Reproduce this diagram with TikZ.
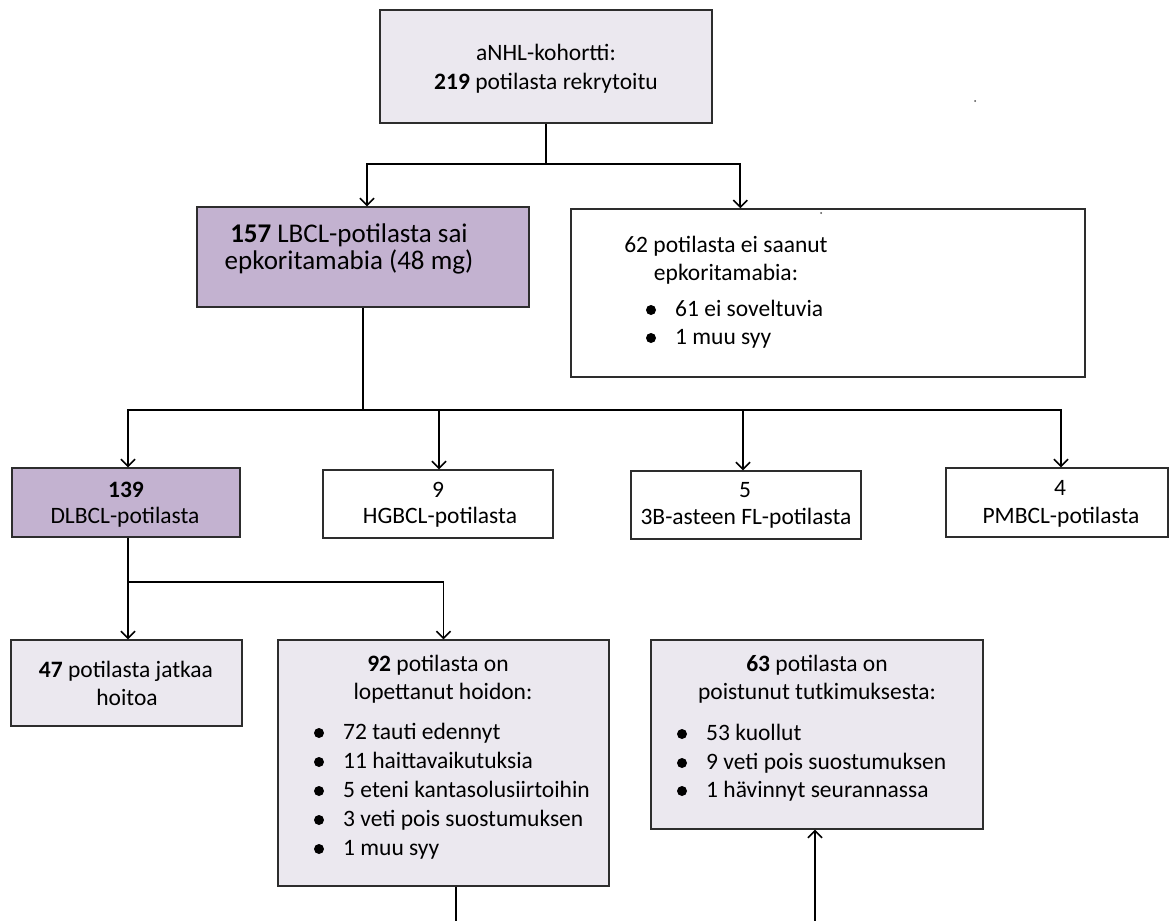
\documentclass[tikz,border=0pt]{standalone}
\usepackage{fontspec}
\setmainfont{Carlito}
\usetikzlibrary{arrows.meta,calc}
\definecolor{lightbox}{RGB}{235,232,239}
\definecolor{purplebox}{RGB}{195,178,208}
\definecolor{edgecol}{RGB}{45,45,45}
\begin{document}
\begin{tikzpicture}[x=1pt,y=-1pt,
  box/.style={draw=edgecol, line width=1.4pt, rectangle, inner sep=0pt},
  txt/.style={font=\fontsize{23.5}{28.7}\selectfont, inner sep=0pt, anchor=base},
  bigtxt/.style={font=\fontsize{27}{30}\selectfont, inner sep=0pt, anchor=base},
  item/.style={font=\fontsize{23.5}{28.7}\selectfont, inner sep=0pt, anchor=base west},
  ln/.style={line width=1.8pt, black},
  arr/.style={line width=1.8pt, black, -{Straight Barb[length=7pt,width=14pt,line width=1.6pt]}}
]
\useasboundingbox (0,0) rectangle (1171,921);
\newcommand{\itm}[4]{\fill[black] (#2,#3-6) circle[radius=5pt];
  \node[item] (#1) at (#2+24,#3) {#4};}

% boxes
\node[box, fill=lightbox, minimum width=332pt, minimum height=113pt] (top) at (546,66.5) {};
\node[box, fill=purplebox, minimum width=332pt, minimum height=100pt] (n157) at (363,257) {};
\node[box, fill=white, minimum width=514pt, minimum height=168pt] (n62) at (828,293) {};
\node[box, fill=purplebox, minimum width=228pt, minimum height=69pt] (dl) at (126,502.5) {};
\node[box, fill=white, minimum width=230pt, minimum height=68pt] (hg) at (438,504) {};
\node[box, fill=white, minimum width=230pt, minimum height=68pt] (fl) at (746,505) {};
\node[box, fill=white, minimum width=222pt, minimum height=69pt] (pm) at (1057,502.5) {};
\node[box, fill=lightbox, minimum width=231pt, minimum height=86pt] (n47) at (126.5,683) {};
\node[box, fill=lightbox, minimum width=331pt, minimum height=246pt] (n92) at (443.5,763) {};
\node[box, fill=lightbox, minimum width=332pt, minimum height=189pt] (n63) at (817,734.5) {};

% texts
\node[txt] (t1a) at (546,60) {aNHL-kohortti:};
\node[txt] (t1b) at (546,89) {\textbf{219} potilasta rekrytoitu};

\node[bigtxt] (t2a) at (349,242) {\textbf{157} LBCL-potilasta sai};
\node[bigtxt] (t2b) at (349,269) {epkoritamabia (48 mg)};

\node[txt] (t3a) at (726,252) {62 potilasta ei saanut};
\node[txt] (t3b) at (726,280) {epkoritamabia:};
\itm{t3c}{651}{316}{61 ei soveltuvia}
\itm{t3d}{651}{344}{1 muu syy}

\node[txt] (t4a) at (126,497) {\textbf{139}};
\node[txt] (t4b) at (125,523) {DLBCL-potilasta};
\node[txt] (t5a) at (438,497) {9};
\node[txt] (t5b) at (440,523) {HGBCL-potilasta};
\node[txt] (t6a) at (745,497) {5};
\node[txt] (t6b) at (746,524) {3B-asteen FL-potilasta};
\node[txt] (t7a) at (1060,495) {4};
\node[txt] (t7b) at (1061,523) {PMBCL-potilasta};

\node[txt] (t8a) at (126,677) {\textbf{47} potilasta jatkaa};
\node[txt] (t8b) at (127,705) {hoitoa};

\node[txt] (t9a) at (438,671) {\textbf{92} potilasta on};
\node[txt] (t9b) at (443,699) {lopettanut hoidon:};
\itm{t9c}{319}{739}{72 tauti edennyt}
\itm{t9d}{319}{768}{11 haittavaikutuksia}
\itm{t9e}{319}{797}{5 eteni kantasolusiirtoihin}
\itm{t9f}{319}{826}{3 veti pois suostumuksen}
\itm{t9g}{319}{855}{1 muu syy}

\node[txt] (t10a) at (817,671) {\textbf{63} potilasta on};
\node[txt] (t10b) at (817,699) {poistunut tutkimuksesta:};
\itm{t10c}{682}{740}{53 kuollut}
\itm{t10d}{682}{769}{9 veti pois suostumuksen}
\itm{t10e}{682}{797}{1 hävinnyt seurannassa}

% connectors
\coordinate (j1) at (546,164);
\draw[ln] (top.south) -- (j1);
\draw[arr] (j1) -| ($(n157.north)+(4,0)$);
\draw[arr] (j1) -| ($(n62.north west)+(170,0)$);

\coordinate (j2) at (363,410);
\draw[ln] (n157.south) -- (j2);
\draw[arr] (j2) -| ($(dl.north)+(2,0)$);
\draw[arr] (j2) -| ($(hg.north)+(1,0)$);
\draw[arr] (j2) -| ($(fl.north)+(-3,0)$);
\draw[arr, line width=1.3pt] (j2) -| ($(pm.north)+(4,0)$);

\coordinate (j3) at (128,582);
\draw[ln] ($(dl.south)+(2,0)$) -- (j3);
\draw[arr] (j3) -- (j3 |- n47.north);
\draw[arr] (j3) -| (n92.north);

\coordinate (b1) at (456,921);
\draw[ln] (b1 |- n92.south) -- (b1);
\coordinate (b2) at (815,921);
\draw[arr] (b2) -- (b2 |- n63.south);

% stray specks
\fill[black!70] (975,101) circle[radius=1pt];
\fill[black!70] (821,213) circle[radius=1pt];
\end{tikzpicture}
\end{document}
